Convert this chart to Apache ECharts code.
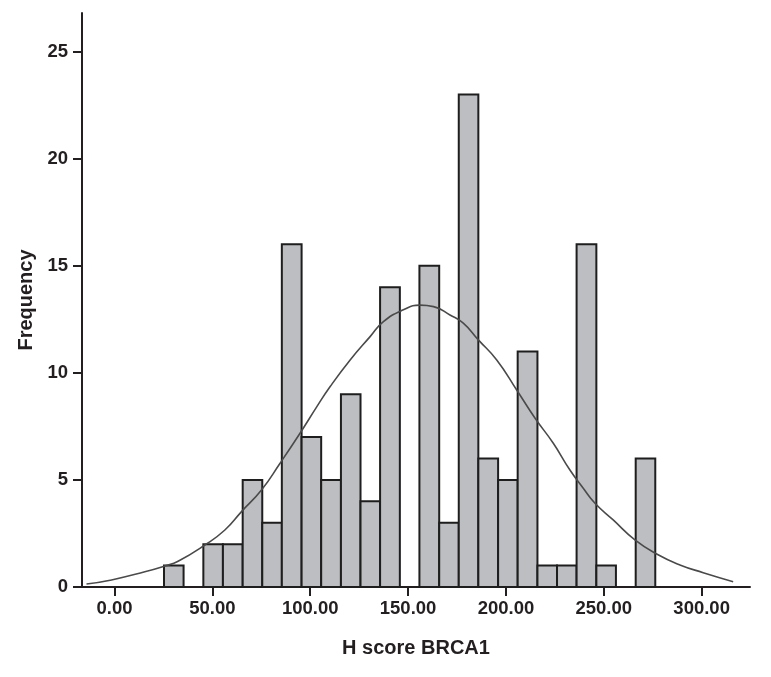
<!DOCTYPE html>
<html>
<head>
<meta charset="utf-8">
<title>H score BRCA1</title>
<script src="https://cdn.jsdelivr.net/npm/echarts@6/dist/echarts.min.js"></script>
<style>
  html, body { margin: 0; padding: 0; background: #fff; }
  #chart { width: 771px; height: 677px; }
</style>
</head>
<body>
<div id="chart"></div>
<script>
// bin edges (H score) and counts per bin
var binEdges = [25.3, 35.3, 45.4, 55.4, 65.5, 75.5, 85.5, 95.6, 105.6, 115.7, 125.7,
  135.7, 145.8, 155.8, 165.9, 175.9, 185.9, 196.0, 206.0, 216.1, 226.1, 236.1,
  246.2, 256.2, 266.3, 276.3];
var counts = [1, 0, 2, 2, 5, 3, 16, 7, 5, 9, 4, 14, 0, 15, 3, 23, 6, 5, 11, 1, 1, 16, 1, 0, 6];

// normal curve
var curveX = [-14.3, -1.5, 15.5, 25.7, 32.5, 46.2, 56.4, 64.9, 75.1, 84.6, 94.8, 103.4,
  110.2, 120.4, 130.6, 137.4, 147.6, 156.1, 163.0, 171.4, 178.2, 185.9, 195.3, 205.5,
  214.9, 224.2, 232.7, 239.5, 245.5, 254.8, 265.9, 277.0, 288.9, 300.8, 316.1];
var curveY = [0.14, 0.33, 0.71, 0.98, 1.2, 1.96, 2.66, 3.52, 4.53, 5.78, 7.18, 8.42,
  9.36, 10.6, 11.69, 12.39, 12.94, 13.16, 13.09, 12.7, 12.32, 11.54, 10.6, 9.2,
  7.88, 6.71, 5.46, 4.61, 3.91, 3.13, 2.2, 1.54, 1.03, 0.67, 0.25];

var xTicks = [0, 50, 100, 150, 200, 250, 300];
var yTicks = [0, 5, 10, 15, 20, 25];

var barData = [];
for (var i = 0; i < counts.length; i++) {
  barData.push([binEdges[i], binEdges[i + 1], counts[i]]);
}
var lineData = [];
for (var j = 0; j < curveX.length; j++) {
  lineData.push([curveX[j], curveY[j]]);
}

var fontName = "Liberation Sans, Arial, sans-serif";
var titleFont = {
  fontFamily: fontName,
  fontWeight: "bold",
  fontSize: 20,
  color: "#231f20",
};

var chart = echarts.init(document.getElementById("chart"));
chart.setOption({
  animation: false,
  grid: { left: 82, right: 21, top: 13, bottom: 90 },
  xAxis: {
    type: "value",
    min: -16.6,
    max: 324.7,
    name: "H score BRCA1",
    nameLocation: "middle",
    nameGap: 51,
    nameTextStyle: titleFont,
    axisLine: { onZero: false, lineStyle: { color: "#231f20", width: 2 } },
    axisTick: { show: true, length: 9, customValues: xTicks, lineStyle: { color: "#231f20", width: 2 } },
    axisLabel: {
      customValues: xTicks,
      margin: 12,
      formatter: function (v) { return v.toFixed(2); },
      fontFamily: fontName,
      fontWeight: "bold",
      fontSize: 18.5,
      color: "#231f20",
    },
    splitLine: { show: false },
  },
  yAxis: {
    type: "value",
    min: 0,
    max: 26.8,
    name: "Frequency",
    nameLocation: "middle",
    nameGap: 45,
    nameTextStyle: titleFont,
    axisLine: { show: true, onZero: false, lineStyle: { color: "#231f20", width: 2 } },
    axisTick: { show: true, length: 9, customValues: yTicks, lineStyle: { color: "#231f20", width: 2 } },
    axisLabel: {
      customValues: yTicks,
      margin: 14,
      fontFamily: fontName,
      fontWeight: "bold",
      fontSize: 18.5,
      color: "#231f20",
    },
    splitLine: { show: false },
  },
  series: [
    {
      type: "custom",
      data: barData,
      encode: { x: [0, 1], y: 2 },
      renderItem: function (params, api) {
        if (api.value(2) <= 0) return null;
        var p0 = api.coord([api.value(0), 0]);
        var p1 = api.coord([api.value(1), api.value(2)]);
        return {
          type: "rect",
          shape: { x: p0[0], y: p1[1], width: p1[0] - p0[0], height: p0[1] - p1[1] },
          style: { fill: "#bdbec1", stroke: "#1e1e1e", lineWidth: 2 },
        };
      },
      z: 2,
    },
    {
      type: "line",
      data: lineData,
      smooth: 0.5,
      showSymbol: false,
      lineStyle: { color: "#4a4a4a", width: 1.6 },
      z: 3,
    },
  ],
});
</script>
</body>
</html>
